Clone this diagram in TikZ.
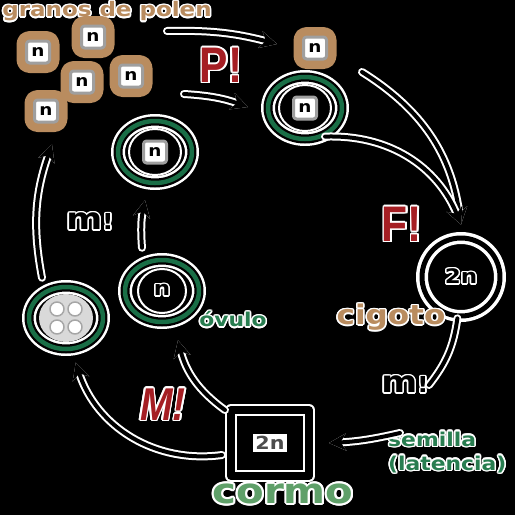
\documentclass[tikz,border=0pt]{standalone}
\usepackage{fontspec}
\usepackage[copies]{contour}
\usetikzlibrary{arrows.meta,shapes.geometric}
\newfontfamily\wide[FakeStretch=1.15]{DejaVu Sans}
\newfontfamily\narrow[FakeStretch=0.85]{Liberation Sans}
\definecolor{polen}{RGB}{185,140,95}
\definecolor{ring}{RGB}{25,110,70}
\definecolor{hoja}{RGB}{40,125,80}
\definecolor{tallo}{RGB}{95,160,105}
\definecolor{rojo}{RGB}{165,30,35}
\contourlength{1.5pt}
\begin{document}
\begin{tikzpicture}[x=1pt,y=-1pt,line join=round,line cap=round,
    lab/.style={inner sep=0pt},
    nbox/.style={draw=gray!75,line width=3pt,fill=white,rounded corners=3pt,minimum width=23pt,minimum height=22pt,inner sep=0pt,font=\wide\bfseries\fontsize{16}{16}\selectfont},
    grano/.style={nbox,preaction={draw=polen,line width=20pt}},
    cell/.style={ellipse,minimum width=74pt,minimum height=62pt,inner sep=0pt,draw=ring,line width=4.5pt,preaction={draw=white,line width=14pt},preaction={draw=black,line width=9pt}},
    zigo/.style={circle,minimum size=78pt,inner sep=0pt,draw=black,line width=5pt,preaction={draw=white,line width=12pt}},
    arr/.style={line width=4pt,-{Stealth[length=17pt,width=17pt]},preaction={draw=white,line width=8pt,-{Stealth[length=17pt,width=17pt]}}},
    bang/.style={lab,text=rojo,font=\narrow\bfseries\fontsize{50}{50}\selectfont}]
\fill[black] (0,0) rectangle (515,515);
\useasboundingbox (0,0) rectangle (515,515);
% granos de polen
\node[lab,text=polen,font=\wide\bfseries\fontsize{20}{20}\selectfont] (granos) at (107,12) {\contour{white}{granos de polen}};
\foreach \i/\p in {1/{38,52},2/{93,37},3/{82,82},4/{131,76},5/{46,111},6/{315,48}}
  \node[grano] (p\i) at (\p) {n};
% celulas
\node[cell] (c1) at (155,152) {};
\node[cell] (c2) at (305,108) {};
\node[cell] (ov) at (162,291) {};
\node[cell] (c4) at (66,318) {};
\draw[white,line width=2pt] (c1) ellipse (26 and 23) (c2) ellipse (26 and 23) (ov) ellipse (24 and 22);
\fill[gray!30] (c4) ellipse (27 and 24);
\foreach \dx/\dy in {-9/-9,9/-9,-9/9,9/9}
  \draw[gray!70,fill=white,line width=1.5pt] ([shift={(\dx,\dy)}]c4) circle (7);
\node[nbox] (n1) at (c1) {n};
\node[nbox] (n2) at (c2) {n};
\node[lab,font=\wide\bfseries\fontsize{20}{20}\selectfont] (n3) at (ov) {\contour{white}{n}};
\node[zigo] (zyg) at (461,277) {};
\node[lab,font=\wide\bfseries\fontsize{20}{20}\selectfont] (n4) at (zyg) {\contour{white}{2n}};
\node[draw=black,line width=8pt,minimum width=78pt,minimum height=66pt,preaction={draw=white,line width=12pt}] (cormo) at (270,443) {};
\node[fill=white,text=gray!60!black,inner sep=2pt,font=\wide\bfseries\fontsize{18}{18}\selectfont] (n5) at (cormo) {2n};
% textos
\node[lab,text=hoja,font=\wide\bfseries\fontsize{19}{19}\selectfont] (ovulo) at (233,320) {\contour{white}{óvulo}};
\node[lab,text=polen,font=\wide\bfseries\fontsize{27}{27}\selectfont] (cigoto) at (391,318) {\contour{white}{cigoto}};
\node[lab,text=tallo,font=\wide\bfseries\fontsize{35}{35}\selectfont] (tcormo) at (283,495) {\contourlength{2pt}\contour{white}{cormo}};
\node[lab,text=hoja,align=left,anchor=west,font=\wide\bfseries\fontsize{19}{24}\selectfont] (semilla) at (388,453) {\contour{white}{semilla}\\\contour{white}{(latencia)}};
\node[bang] (P) at (221,66) {\contour{white}{P!}};
\node[bang] (F) at (402,225) {\contour{white}{F!}};
\node[bang,font=\narrow\bfseries\itshape\fontsize{46}{46}\selectfont] (M) at (163,405) {\contour{white}{M!}};
\node[lab,font=\wide\bfseries\fontsize{30}{30}\selectfont] (m1) at (90,222) {\contour{white}{m\fontsize{22}{22}\selectfont!}};
\node[lab,font=\wide\bfseries\fontsize{30}{30}\selectfont] (m2) at (405,385) {\contour{white}{m\fontsize{22}{22}\selectfont!}};
% flechas
\coordinate (pa) at (167,31);
\coordinate (pb) at (277,44);
\coordinate (pc) at (184,94);
\coordinate (pd) at (248,107);
\coordinate (pe) at (362,72);
\coordinate (sa) at (400,433);
\draw[arr] (pa) to[bend left=8] (pb);
\draw[arr] (pc) to[bend left=8] (pd);
\draw[arr] (pe) to[bend left=25] ([yshift=11]zyg.north);
\draw[arr] (c2.-55) to[bend left=35] ([yshift=11]zyg.north);
\draw[line width=4pt,preaction={draw=white,line width=8pt}] (zyg.-95) to[bend left=15] (m2.east);
\draw[arr] (sa) to[bend left=5] ([xshift=16]cormo.east);
\draw[arr] ([shift={(-2,4)}]cormo.north west) to[bend left=20] ([shift={(16,16)}]ov.south);
\draw[arr] ([shift={(-5,12)}]cormo.west) to[bend left=40] ([shift={(-18,21)}]c4.south east);
\draw[arr] ([shift={(-24,-7)}]c4.north) to[bend left=15] ([shift={(6,21)}]p5.south);
\draw[arr] ([xshift=-20,yshift=10]ov.north) to[bend left=8] ([xshift=-10,yshift=-15]c1.south);
\end{tikzpicture}
\end{document}
